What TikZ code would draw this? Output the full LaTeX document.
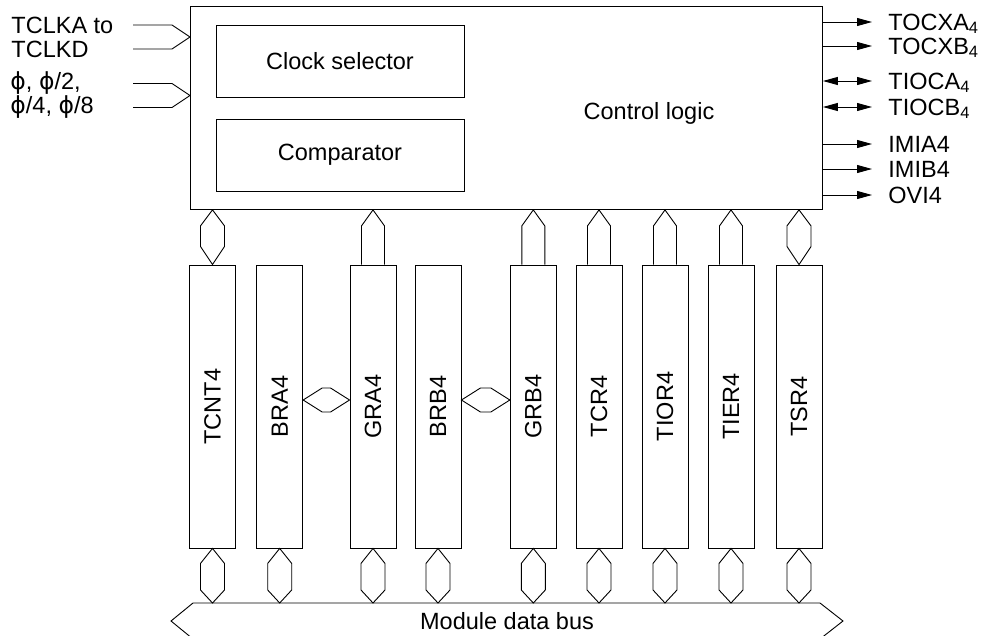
\documentclass[tikz,border=0pt]{standalone}
\usepackage{fontspec}
\setmainfont{Liberation Sans}
\newfontfamily\phifont{DejaVu Sans}
\usetikzlibrary{positioning, arrows.meta, calc}
\newcommand{\ph}{{\phifont ϕ}}

\begin{document}
\begin{tikzpicture}[x=1pt, y=-1pt, line width=0.9pt, font=\fontsize{23.5}{24}\selectfont,
	>={Triangle[length=15pt,width=8pt]}]
	\tikzset{
		box/.style={draw, inner sep=0pt},
		reg/.style={draw, minimum width=46pt, minimum height=283pt, inner sep=0pt},
		lbl/.style={anchor=west, inner sep=0pt, text height=16.5pt, text depth=0pt},
		out arrow/.style={->},
		io arrow/.style={<->}
	}
	\useasboundingbox (0,0) rectangle (983,635);
	\clip (0,0) rectangle (983,635);
	
	% control block
	\node[box, minimum width=632pt, minimum height=203pt, anchor=north west] (ctl) at (190,6) {};
	\node[box, minimum width=248pt, minimum height=72pt] (clksel) at (340,61) {Clock selector};
	\node[box, minimum width=248pt, minimum height=72pt] (cmp) at (340,155) {Comparator};
	\node (ctllogic) at (649,113) {Control logic};
	
	% clock inputs
	\path (ctl.north west) ++(0,31) coordinate (clkin) ++(0,58.5) coordinate (phiin);
	\node[anchor=west, align=left, inner sep=0pt] (tclk) at (11,37) {TCLKA to\\TCLKD};
	\node[anchor=west, align=left, inner sep=0pt] (phi) at (10,95.5) {\ph, \ph/2,\\\ph/4, \ph/8};
	\foreach \c in {clkin,phiin}
	\draw ($(\c)+(-57,-12)$) -- ++(39,0) -- (\c) -- ++(-18,12) -- ++(-39,0);
	
	% outputs
	\foreach \n/\y/\t/\k in {ocxa/22/TOCXA\textsubscript{4}/out arrow, ocxb/46/TOCXB\textsubscript{4}/out arrow,
		ioca/81/TIOCA\textsubscript{4}/io arrow, iocb/107/TIOCB\textsubscript{4}/io arrow,
		imia/144/IMIA4/out arrow, imib/169/IMIB4/out arrow, ovi/195/OVI4/out arrow} {
		\node[lbl] (\n) at (888,\y) {\t};
		\draw[\k] (ctl.east |- \n.west) -- ($(\n.west)+(-16,0)$);
	}
	
	% registers
	\foreach \r/\x in {TCNT4/212.5, BRA4/279.7, GRA4/373, BRB4/438, GRB4/533.3,
		TCR4/599, TIOR4/665, TIER4/731, TSR4/799}
	\node[reg] (\r) at (\x,406.5) {\rotatebox{90}{\r}};
	
	% module data bus
	\coordinate (bus) at (507,603);
	\draw (193,603) -- (820,603) -- (843,621) -- (820,639) -- (193,639) -- (171,621) -- cycle;
	\node (busname) at (507,621) {Module data bus};
	
	% two-way links to control logic
	\foreach \r in {TCNT4,TSR4}
	\draw (ctl.south -| \r.north) -- ++(12,16) -- ($(\r.north)+(12,-18)$) -- (\r.north)
		-- ++(-12,-18) -- ($(ctl.south -| \r.north)+(-12,16)$) -- cycle;
	
	% one-way links to control logic
	\foreach \r in {GRA4,GRB4,TCR4,TIOR4,TIER4}
	\draw ($(\r.north)+(-11.5,0)$) -- ($(ctl.south -| \r.north)+(-11.5,16)$) -- (ctl.south -| \r.north)
		-- ($(ctl.south -| \r.north)+(11.5,16)$) -- ($(\r.north)+(11.5,0)$);
	
	% links between buffer and general registers
	\foreach \a/\b in {BRA4/GRA4, BRB4/GRB4} {
		\path ([yshift=6.5pt]\a.east) coordinate (hl) ([yshift=6.5pt]\b.west) coordinate (hr);
		\draw (hl) -- ++(19,-12) -- ($(hr)+(-19,-12)$) -- (hr) -- ++(-19,12) -- ($(hl)+(19,12)$) -- cycle;
	}
	
	% links to module data bus
	\foreach \r in {TCNT4,BRA4,GRA4,BRB4,GRB4,TCR4,TIOR4,TIER4,TSR4}
	\draw (\r.south) -- ++(12,15) -- ($(\r.south |- bus)+(12,-13)$) -- (\r.south |- bus)
		-- ++(-12,-13) -- ($(\r.south)+(-12,15)$) -- cycle;
\end{tikzpicture}
\end{document}
